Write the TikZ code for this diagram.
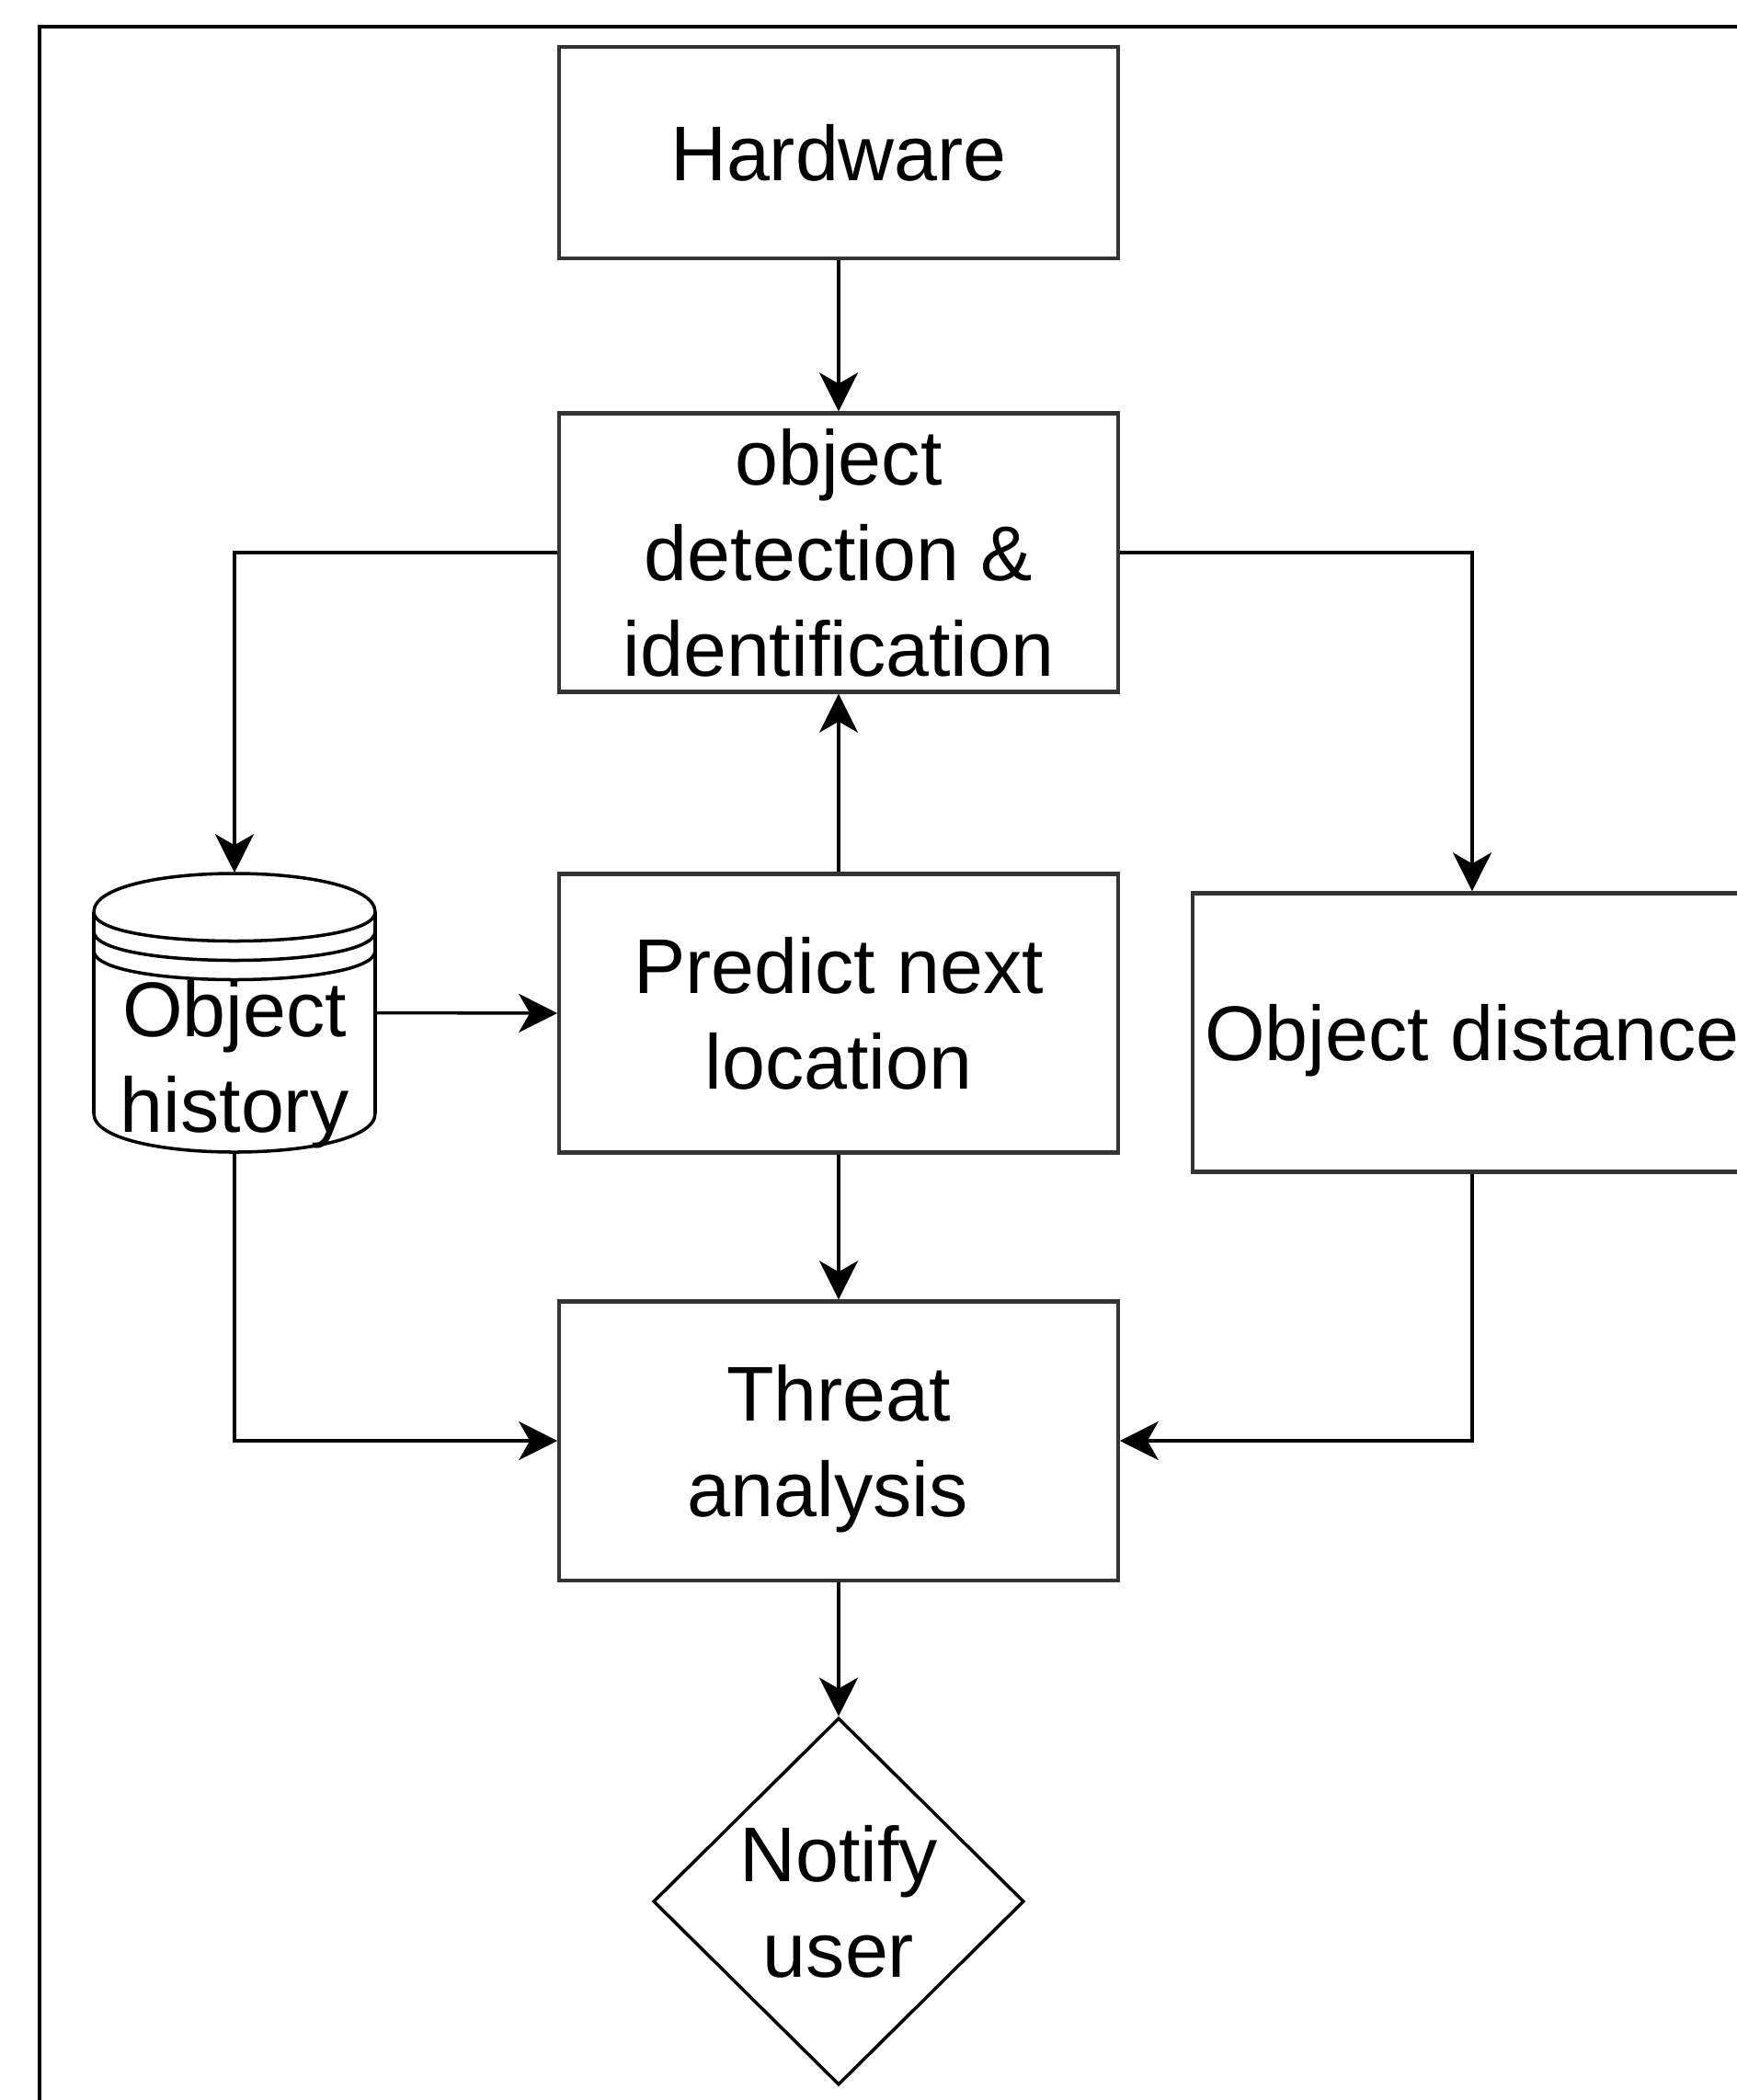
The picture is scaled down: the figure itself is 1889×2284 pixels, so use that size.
\documentclass[tikz,border=0pt]{standalone}
\usepackage{fontspec}
\setmainfont{Liberation Sans}
\usetikzlibrary{arrows.meta,shapes.geometric}
\newcommand{\diagfont}{\fontsize{24}{29.5}\selectfont}
\begin{document}
\begin{tikzpicture}[x=0.01cm,y=-0.01cm,
  box/.style={draw=black!80, line width=1.2pt, rectangle, minimum width=6.07cm, minimum height=3.03cm, inner sep=0pt, align=center, font=\diagfont, text depth=0pt},
  conn/.style={draw=black, line width=1pt, -{Stealth[length=0.42cm,width=0.42cm,inset=0.12cm]}},
  outline/.style={draw=black, line width=1pt},
  txt/.style={align=center, inner sep=0pt, font=\diagfont, text depth=0pt}
 ]
\fill[white] (0,0) rectangle (1889,2284);
\useasboundingbox (0,0) rectangle (1889,2284);
% frame
\draw[line width=0.95pt] (43,2290) -- (43,29) -- (1895,29);

% nodes
\node[box, minimum height=2.30cm] (hw) at (912,166) {Hardware};
\node[box] (det) at (912,601) {object\\detection \&\\identification};
\node[box] (pred) at (912,1102) {Predict next\\location};
\node[box] (thr) at (912,1567) {Threat\\analysis\hspace*{0.278em}};
\node[box] (dist) at (1601,1123) {Object distance};

% cylinder (object history)
\node[minimum width=3.06cm, minimum height=3.03cm, inner sep=0pt] (hist) at (255,1101.5) {};
\draw[outline, fill=white] (102,992) .. controls (102,936) and (408,936) .. (408,992) -- (408,1211) .. controls (408,1267) and (102,1267) .. (102,1211) -- cycle;
\draw[outline] (102,992) .. controls (102,1034) and (408,1034) .. (408,992);
\draw[outline] (102,1013) .. controls (102,1055) and (408,1055) .. (408,1013);
\draw[outline] (102,1034) .. controls (102,1076) and (408,1076) .. (408,1034);
\node[txt] (histtxt) at (255,1149) {Object\\history};

% diamond
\node[diamond, draw=black, line width=1pt, minimum width=4.03cm, minimum height=3.99cm, inner sep=0pt, align=center, font=\diagfont, text depth=0pt] (notify) at (912,2068) {Notify\\user};

% connectors
\draw[conn] (hw) -- (det);
\draw[conn] (det.west) -| (hist.north);
\draw[conn] (det.east) -| (dist.north);
\draw[conn] (pred) -- (det);
\draw[conn] (hist.east) -- (pred.west);
\draw[conn] (pred) -- (thr);
\draw[conn] (hist.south) |- (thr.west);
\draw[conn] (dist.south) |- (thr.east);
\draw[conn] (thr) -- (notify);
\end{tikzpicture}
\end{document}
